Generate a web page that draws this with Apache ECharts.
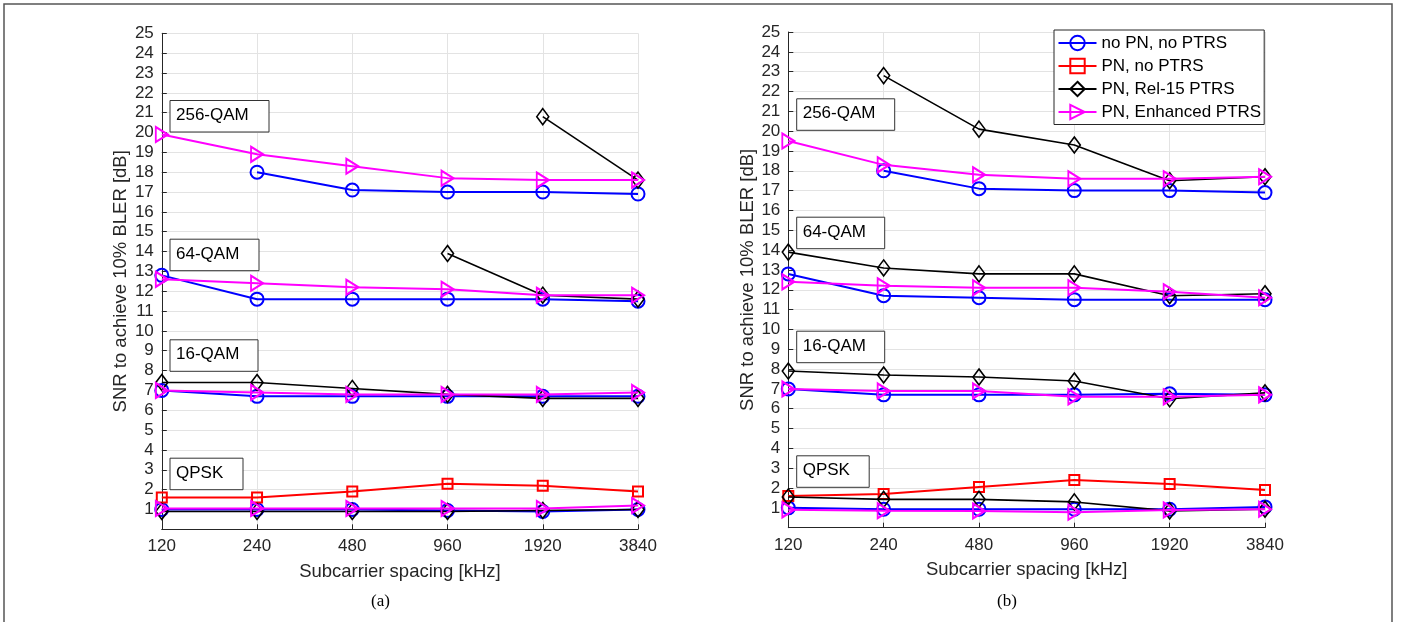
<!DOCTYPE html>
<html>
<head>
<meta charset="utf-8">
<script src="https://cdn.jsdelivr.net/npm/echarts@6/dist/echarts.min.js"></script>
<style>
html,body{margin:0;padding:0;background:#fff;}
#chart{width:1408px;height:622px;}
</style>
</head>
<body>
<div id="chart"></div>
<script>
// ---------- data ----------
const categories = ['120', '240', '480', '960', '1920', '3840'];
const legendNames = ['no PN, no PTRS', 'PN, no PTRS', 'PN, Rel-15 PTRS', 'PN, Enhanced PTRS'];
const modLabels = ['256-QAM', '64-QAM', '16-QAM', 'QPSK'];

// (a)
const a_noPN_256 = [null, 18.0, 17.1, 17.0, 17.0, 16.9];
const a_noPN_64  = [12.8, 11.6, 11.6, 11.6, 11.6, 11.5];
const a_noPN_16  = [7.0, 6.7, 6.7, 6.7, 6.7, 6.7];
const a_noPN_QPSK = [1.0, 1.0, 1.0, 0.95, 0.9, 1.0];
const a_pnNoPTRS_QPSK = [1.6, 1.6, 1.9, 2.3, 2.2, 1.9];
const a_rel15_256 = [null, null, null, null, 20.8, 17.6];
const a_rel15_64  = [null, null, null, 13.9, 11.8, 11.6];
const a_rel15_16  = [7.4, 7.4, 7.1, 6.8, 6.6, 6.6];
const a_rel15_QPSK = [0.9, 0.9, 0.9, 0.9, 0.95, 1.0];
const a_enh_256 = [19.9, 18.9, 18.3, 17.7, 17.6, 17.6];
const a_enh_64  = [12.6, 12.4, 12.2, 12.1, 11.8, 11.8];
const a_enh_16  = [7.0, 6.9, 6.8, 6.8, 6.8, 6.9];
const a_enh_QPSK = [1.05, 1.05, 1.05, 1.05, 1.05, 1.2];

// (b)
const b_noPN_256 = [null, 18.0, 17.1, 17.0, 17.0, 16.9];
const b_noPN_64  = [12.8, 11.7, 11.6, 11.5, 11.5, 11.5];
const b_noPN_16  = [7.0, 6.7, 6.7, 6.7, 6.75, 6.7];
const b_noPN_QPSK = [1.0, 0.93, 0.93, 0.93, 0.93, 1.05];
const b_pnNoPTRS_QPSK = [1.6, 1.7, 2.05, 2.4, 2.2, 1.9];
const b_rel15_256 = [null, 22.8, 20.1, 19.3, 17.5, 17.7];
const b_rel15_64  = [13.9, 13.1, 12.8, 12.8, 11.7, 11.8];
const b_rel15_16  = [7.9, 7.7, 7.6, 7.4, 6.5, 6.8];
const b_rel15_QPSK = [1.55, 1.43, 1.43, 1.3, 0.85, 0.93];
const b_enh_256 = [19.5, 18.3, 17.8, 17.6, 17.6, 17.7];
const b_enh_64  = [12.4, 12.2, 12.1, 12.1, 11.9, 11.6];
const b_enh_16  = [7.0, 6.9, 6.9, 6.6, 6.6, 6.7];
const b_enh_QPSK = [0.9, 0.86, 0.84, 0.78, 0.89, 0.93];

// ---------- styling ----------
const FONT = 'Liberation Sans, Arial, Helvetica, sans-serif';
const AXC = '#262626';
const triRight = 'path://M0,0L10,5L0,10Z';
const styles = [
  {color: '#0000ff', symbol: 'circle', size: 13, lw: 2, bw: 2},
  {color: '#ff0000', symbol: 'rect', size: 10, lw: 2, bw: 2},
  {color: '#000000', symbol: 'diamond', size: [12, 16], lw: 1.6, bw: 1.6},
  {color: '#ff00ff', symbol: triRight, size: [12, 15], lw: 2, bw: 2}
];

function mk(methodIdx, data, gi) {
  const s = styles[methodIdx];
  return {
    type: 'line', name: legendNames[methodIdx],
    xAxisIndex: gi, yAxisIndex: gi, data: data,
    symbol: s.symbol, symbolSize: s.size, showAllSymbol: true,
    connectNulls: false, animation: false, silent: true,
    lineStyle: {color: s.color, width: s.lw},
    itemStyle: {color: 'rgba(255,255,255,0)', borderColor: s.color, borderWidth: s.bw},
    emphasis: {disabled: true},
    z: 2 + methodIdx
  };
}

const series = [
  mk(0, a_noPN_256, 0), mk(0, a_noPN_64, 0), mk(0, a_noPN_16, 0), mk(0, a_noPN_QPSK, 0),
  mk(1, a_pnNoPTRS_QPSK, 0),
  mk(2, a_rel15_256, 0), mk(2, a_rel15_64, 0), mk(2, a_rel15_16, 0), mk(2, a_rel15_QPSK, 0),
  mk(3, a_enh_256, 0), mk(3, a_enh_64, 0), mk(3, a_enh_16, 0), mk(3, a_enh_QPSK, 0),
  mk(0, b_noPN_256, 1), mk(0, b_noPN_64, 1), mk(0, b_noPN_16, 1), mk(0, b_noPN_QPSK, 1),
  mk(1, b_pnNoPTRS_QPSK, 1),
  mk(2, b_rel15_256, 1), mk(2, b_rel15_64, 1), mk(2, b_rel15_16, 1), mk(2, b_rel15_QPSK, 1),
  mk(3, b_enh_256, 1), mk(3, b_enh_64, 1), mk(3, b_enh_16, 1), mk(3, b_enh_QPSK, 1)
];

function xAx(gi) {
  return {
    type: 'category', gridIndex: gi, data: categories, boundaryGap: false,
    name: 'Subcarrier spacing [kHz]', nameLocation: 'middle', nameGap: 33,
    nameTextStyle: {fontFamily: FONT, fontSize: 18.5, color: AXC},
    axisLine: {show: true, lineStyle: {color: AXC, width: 1}},
    axisTick: {show: true, inside: true, length: 5, lineStyle: {color: AXC}},
    axisLabel: {fontFamily: FONT, fontSize: 17, color: AXC, margin: 9},
    splitLine: {show: true, lineStyle: {color: '#e3e3e3', width: 1}}
  };
}
function yAx(gi) {
  return {
    type: 'value', gridIndex: gi, min: 0, max: 25, interval: 1,
    name: 'SNR to achieve 10% BLER [dB]', nameLocation: 'middle', nameGap: 31,
    nameTextStyle: {fontFamily: FONT, fontSize: 18.5, color: AXC},
    axisLine: {show: true, lineStyle: {color: AXC, width: 1}},
    axisTick: {show: true, inside: true, length: 5, lineStyle: {color: AXC}},
    axisLabel: {fontFamily: FONT, fontSize: 17, color: AXC, margin: 8,
      formatter: v => (v === 0 ? '' : String(v))},
    splitLine: {show: true, lineStyle: {color: '#e3e3e3', width: 1}}
  };
}

function box(x, y, w, h, label) {
  return [
    {type: 'rect', left: x, top: y, shape: {x: 0, y: 0, width: w, height: h},
     style: {fill: '#fff', stroke: '#333', lineWidth: 1}, z: 50},
    {type: 'text', left: x + 6.5, top: y + h / 2 - 9,
     style: {text: label, font: '17px ' + FONT, fill: '#000'}, z: 51}
  ];
}

const graphics = [].concat(
  [{type: 'rect', left: 1.5, top: 1.5, shape: {x: 0, y: 0, width: 1388, height: 660},
    style: {fill: 'none', stroke: '#555', lineWidth: 1.5}, z: 100, silent: true}],
  box(169.5, 100, 99, 31.5, modLabels[0]),
  box(169.5, 238.7, 89, 31.5, modLabels[1]),
  box(169.5, 339.3, 88, 31.5, modLabels[2]),
  box(169.5, 457.7, 73, 31.5, modLabels[3]),
  box(796.2, 98.3, 98, 31.5, modLabels[0]),
  box(796.2, 216.7, 88, 31.5, modLabels[1]),
  box(796.2, 330.7, 88, 31.5, modLabels[2]),
  box(796.2, 455.3, 72.5, 31.5, modLabels[3]),
  [{type: 'text', left: 371, top: 593, style: {text: '(a)', font: '17px Liberation Serif, Times New Roman, serif', fill: '#000'}},
   {type: 'text', left: 997, top: 593, style: {text: '(b)', font: '17px Liberation Serif, Times New Roman, serif', fill: '#000'}}]
);

const chart = echarts.init(document.getElementById('chart'), null, {renderer: 'canvas'});
chart.setOption({
  backgroundColor: '#fff',
  animation: false,
  grid: [
    {left: 161.8, top: 33.3, width: 476.2, height: 496, containLabel: false},
    {left: 788.3, top: 32, width: 476.7, height: 495.7, containLabel: false}
  ],
  xAxis: [xAx(0), xAx(1)],
  yAxis: [yAx(0), yAx(1)],
  legend: {
    data: legendNames, orient: 'vertical', left: 1054, top: 30,
    backgroundColor: '#fff', borderColor: AXC, borderWidth: 1,
    padding: [4.5, 3, 4, 3.5], itemWidth: 38, itemHeight: 18, itemGap: 6,
    textStyle: {fontFamily: FONT, fontSize: 17, color: '#000'},
    selectedMode: false, z: 60
  },
  graphic: graphics,
  series: series
});
</script>
</body>
</html>
